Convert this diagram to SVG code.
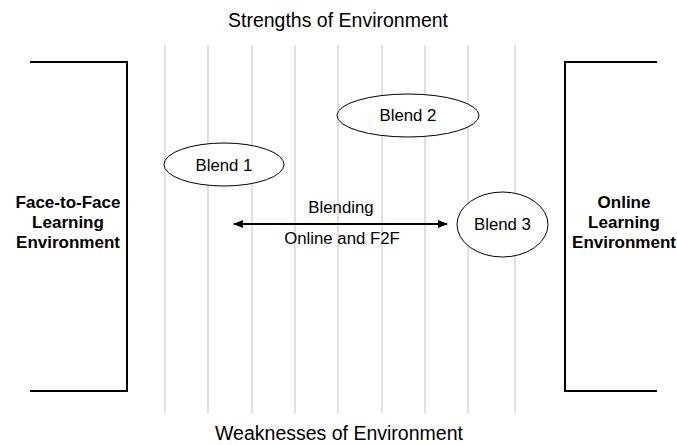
<svg xmlns="http://www.w3.org/2000/svg" width="677" height="445" viewBox="0 0 677 445">
<style>
text{font-family:"Liberation Sans",Arial,sans-serif;fill:#000}
.title{font-size:19.5px}
.side{font-size:17px;font-weight:bold}
.lbl{font-size:16.8px}
.grid line{stroke:#e0e0e0;stroke-width:2}
.br{fill:none;stroke:#000;stroke-width:2}
.el{fill:#fff;stroke:#000;stroke-width:1}
</style>
<defs>
<marker id="ah" markerWidth="10" markerHeight="8" refX="9" refY="4" orient="auto-start-reverse" markerUnits="userSpaceOnUse">
<path d="M0,0 L10,4 L0,8 z" fill="#000"/>
</marker>
</defs>
<rect width="677" height="445" fill="#fff"/>
<g class="grid">
<line x1="165" y1="45" x2="165" y2="413"/>
<line x1="208" y1="45" x2="208" y2="413"/>
<line x1="252" y1="45" x2="252" y2="413"/>
<line x1="295" y1="45" x2="295" y2="413"/>
<line x1="338" y1="45" x2="338" y2="413"/>
<line x1="382" y1="45" x2="382" y2="413"/>
<line x1="425" y1="45" x2="425" y2="413"/>
<line x1="468" y1="45" x2="468" y2="413"/>
<line x1="515" y1="45" x2="515" y2="413"/>
</g>
<text class="title" x="338" y="27" text-anchor="middle">Strengths of Environment</text>
<text class="title" x="339" y="440" text-anchor="middle">Weaknesses of Environment</text>
<g id="f2f">
<path class="br" d="M30,62 H127 V391 H30"/>
<text class="side" x="68" y="208" text-anchor="middle">Face-to-Face</text>
<text class="side" x="68" y="228" text-anchor="middle">Learning</text>
<text class="side" x="68" y="248" text-anchor="middle">Environment</text>
</g>
<g id="online">
<path class="br" d="M657,62 H565 V391 H657"/>
<text class="side" x="624" y="208" text-anchor="middle">Online</text>
<text class="side" x="624" y="228" text-anchor="middle">Learning</text>
<text class="side" x="624" y="248" text-anchor="middle">Environment</text>
</g>
<g id="blend1">
<ellipse class="el" cx="224" cy="164.5" rx="60" ry="21.5"/>
<text class="lbl" x="224" y="171" text-anchor="middle">Blend 1</text>
</g>
<g id="blend2">
<ellipse class="el" cx="408" cy="115.5" rx="71" ry="21.5"/>
<text class="lbl" x="408" y="121" text-anchor="middle">Blend 2</text>
</g>
<g id="blend3">
<ellipse class="el" cx="502.5" cy="224.5" rx="45.5" ry="32.5"/>
<text class="lbl" x="502.5" y="230" text-anchor="middle">Blend 3</text>
</g>
<g id="connectors">
<line x1="234" y1="224" x2="447" y2="224" stroke="#000" stroke-width="2" marker-start="url(#ah)" marker-end="url(#ah)"/>
<text class="lbl" x="341" y="213" text-anchor="middle">Blending</text>
<text class="lbl" x="342" y="244" text-anchor="middle">Online and F2F</text>
</g>
</svg>
